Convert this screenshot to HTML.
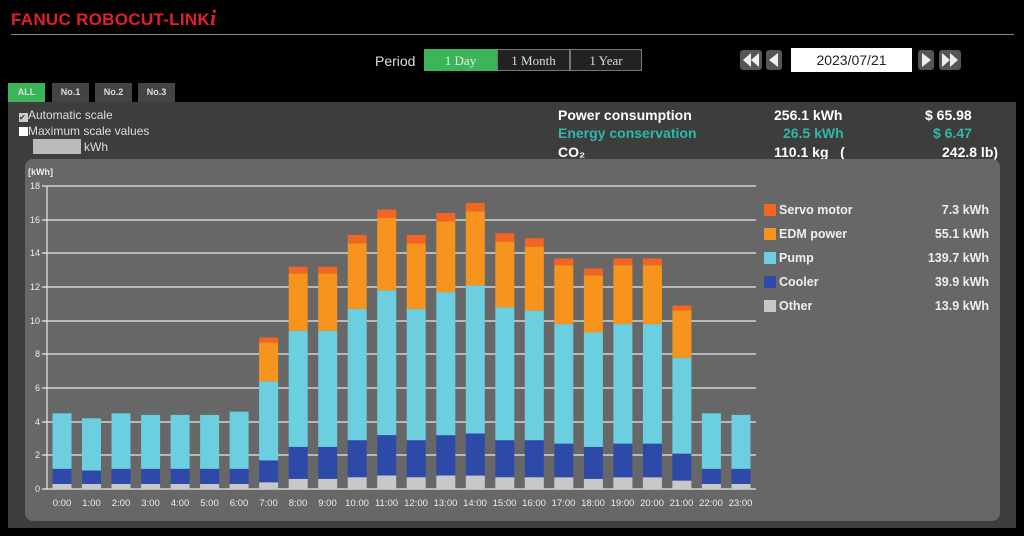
<!DOCTYPE html>
<html><head><meta charset="utf-8"><style>
body{margin:0;width:1024px;height:536px;background:#000;overflow:hidden;font-family:"Liberation Sans",sans-serif;position:relative}
.a{position:absolute}
.btn{position:absolute;top:49px;height:22px;line-height:22px;text-align:center;font-family:"Liberation Serif",serif;font-size:13px;color:#ddd;border:1px solid #777;box-sizing:border-box;background:#222}
.tab{position:absolute;top:83px;height:19px;line-height:19px;text-align:center;font-size:9px;font-weight:bold;color:#ddd;background:#444}
.info{position:absolute;font-size:14px;font-weight:bold;color:#fff}
.lg{position:absolute;font-size:12.5px;font-weight:bold;color:#eee}
</style></head><body>
<div class="a" style="left:11px;top:5px;font-size:17px;font-weight:bold;color:#e0202a;letter-spacing:0.3px">FANUC ROBOCUT-LINK<span style="font-family:'Liberation Serif',serif;font-style:italic;font-size:22px">i</span></div>
<div class="a" style="left:11px;top:34px;width:1003px;height:1px;background:#888"></div>
<div class="a" style="left:375px;top:53px;font-size:14px;color:#ddd">Period</div>
<div class="btn" style="left:424px;width:73px;background:#3cb45a;border-color:#3cb45a;color:#eee">1 Day</div>
<div class="btn" style="left:497px;width:73px">1 Month</div>
<div class="btn" style="left:570px;width:72px">1 Year</div>
<svg class="a" style="left:740px;top:50px" width="52" height="22"><rect x="0" y="0" width="22" height="20" rx="3" fill="#555"/><polygon points="3,10 11,3 11,17" fill="#eee"/><polygon points="11,10 19,3 19,17" fill="#eee"/><rect x="26" y="0" width="16" height="20" rx="3" fill="#555"/><polygon points="29,10 38,3 38,17" fill="#eee"/></svg>
<div class="a" style="left:791px;top:48px;width:121px;height:24px;background:#fff;color:#222;font-size:14px;text-align:center;line-height:24px">2023/07/21</div>
<svg class="a" style="left:916px;top:50px" width="50" height="22"><rect x="2" y="0" width="16" height="20" rx="3" fill="#555"/><polygon points="6,3 15,10 6,17" fill="#eee"/><rect x="23" y="0" width="22" height="20" rx="3" fill="#555"/><polygon points="26,3 34,10 26,17" fill="#eee"/><polygon points="34,3 42,10 34,17" fill="#eee"/></svg>
<div class="tab" style="left:8px;width:37px;background:#3cb45a">ALL</div>
<div class="tab" style="left:52px;width:37px">No.1</div>
<div class="tab" style="left:95px;width:37px">No.2</div>
<div class="tab" style="left:138px;width:37px">No.3</div>
<div class="a" style="left:8px;top:102px;width:1008px;height:426px;background:#3d3d3d"></div>
<div class="a" style="left:19px;top:108px;font-size:12px;color:#ddd"><span style="display:inline-block;width:9px;height:9px;background:#ccc;vertical-align:-1px;font-size:8px;line-height:9px;color:#333">✔</span>Automatic scale</div>
<div class="a" style="left:19px;top:124px;font-size:12px;color:#ddd"><span style="display:inline-block;width:9px;height:9px;background:#fff;vertical-align:-1px"></span>Maximum scale values</div>
<div class="a" style="left:33px;top:139px;width:48px;height:15px;background:#bbb"></div>
<div class="a" style="left:84px;top:140px;font-size:12px;color:#ddd">kWh</div>
<div class="info" style="left:558px;top:107px">Power consumption</div>
<div class="info" style="left:774px;top:107px">256.1 kWh</div>
<div class="info" style="left:925px;top:107px">$ 65.98</div>
<div class="info" style="left:558px;top:125px;color:#2fb8a8">Energy conservation</div>
<div class="info" style="left:783px;top:125px;color:#2fb8a8">26.5 kWh</div>
<div class="info" style="left:933px;top:125px;color:#2fb8a8">$ 6.47</div>
<div class="info" style="left:558px;top:144px">CO₂</div>
<div class="info" style="left:774px;top:144px">110.1 kg &nbsp; (</div>
<div class="info" style="left:942px;top:144px">242.8 lb)</div>
<div class="a" style="left:25px;top:159px;width:975px;height:362px;background:#676767;border-radius:8px"></div>
<svg class="a" style="left:0;top:0" width="1024" height="536">
<g font-family="Liberation Sans" font-size="9" fill="#eee" text-anchor="end">
<text x="28" y="175" text-anchor="start" font-weight="bold">[kWh]</text>
<text x="40" y="189">18</text><text x="40" y="223">16</text><text x="40" y="256">14</text><text x="40" y="290">12</text><text x="40" y="324">10</text><text x="40" y="357">8</text><text x="40" y="391">6</text><text x="40" y="425">4</text><text x="40" y="458">2</text><text x="40" y="492">0</text>
</g>
<g stroke="#e8e8e8" stroke-width="1.2">
<line x1="42" x2="756" y1="186" y2="186"/><line x1="42" x2="756" y1="220" y2="220"/><line x1="42" x2="756" y1="253" y2="253"/><line x1="42" x2="756" y1="287" y2="287"/><line x1="42" x2="756" y1="321" y2="321"/><line x1="42" x2="756" y1="354" y2="354"/><line x1="42" x2="756" y1="388" y2="388"/><line x1="42" x2="756" y1="422" y2="422"/><line x1="42" x2="756" y1="455" y2="455"/><line x1="42" x2="756" y1="489" y2="489"/>
<line x1="47" x2="47" y1="186" y2="489"/>
</g>
<g id="bars"></g>
<g font-family="Liberation Sans" font-size="9.5" fill="#eee" text-anchor="middle">
<text x="62" y="506">0:00</text><text x="91.5" y="506">1:00</text><text x="121" y="506">2:00</text><text x="150.5" y="506">3:00</text><text x="180" y="506">4:00</text><text x="209.5" y="506">5:00</text><text x="239" y="506">6:00</text><text x="268.5" y="506">7:00</text><text x="298" y="506">8:00</text><text x="327.5" y="506">9:00</text><text x="357" y="506">10:00</text><text x="386.5" y="506">11:00</text><text x="416" y="506">12:00</text><text x="445.5" y="506">13:00</text><text x="475" y="506">14:00</text><text x="504.5" y="506">15:00</text><text x="534" y="506">16:00</text><text x="563.5" y="506">17:00</text><text x="593" y="506">18:00</text><text x="622.5" y="506">19:00</text><text x="652" y="506">20:00</text><text x="681.5" y="506">21:00</text><text x="711" y="506">22:00</text><text x="740.5" y="506">23:00</text>
</g>
<rect x="764" y="204" width="12" height="12" fill="#f26522"/>
<rect x="764" y="228" width="12" height="12" fill="#f7941d"/>
<rect x="764" y="252" width="12" height="12" fill="#6ccfe0"/>
<rect x="764" y="276" width="12" height="12" fill="#2e4aa8"/>
<rect x="764" y="300" width="12" height="12" fill="#c8c8c8"/>
</svg>
<div class="lg" style="left:779px;top:203px">Servo motor</div><div class="lg" style="left:900px;top:203px;width:89px;text-align:right">7.3 kWh</div>
<div class="lg" style="left:779px;top:227px">EDM power</div><div class="lg" style="left:900px;top:227px;width:89px;text-align:right">55.1 kWh</div>
<div class="lg" style="left:779px;top:251px">Pump</div><div class="lg" style="left:900px;top:251px;width:89px;text-align:right">139.7 kWh</div>
<div class="lg" style="left:779px;top:275px">Cooler</div><div class="lg" style="left:900px;top:275px;width:89px;text-align:right">39.9 kWh</div>
<div class="lg" style="left:779px;top:299px">Other</div><div class="lg" style="left:900px;top:299px;width:89px;text-align:right">13.9 kWh</div>
<script>
var d=[[.3,1.2,4.5,0,0],[.3,1.1,4.2,0,0],[.3,1.2,4.5,0,0],[.3,1.2,4.4,0,0],[.3,1.2,4.4,0,0],[.3,1.2,4.4,0,0],[.3,1.2,4.6,0,0],
[.4,1.7,6.4,8.7,9.0],[.6,2.5,9.4,12.8,13.2],[.6,2.5,9.4,12.8,13.2],[.7,2.9,10.7,14.6,15.1],[.8,3.2,11.8,16.1,16.6],[.7,2.9,10.7,14.6,15.1],
[.8,3.2,11.7,15.9,16.4],[.8,3.3,12.1,16.5,17.0],[.7,2.9,10.8,14.7,15.2],[.7,2.9,10.6,14.4,14.9],[.7,2.7,9.8,13.3,13.7],[.6,2.5,9.3,12.7,13.1],
[.7,2.7,9.8,13.3,13.7],[.7,2.7,9.8,13.3,13.7],[.5,2.1,7.8,10.6,10.9],[.3,1.2,4.5,0,0],[.3,1.2,4.4,0,0]];
var c=["#c8c8c8","#2e4aa8","#6ccfe0","#f7941d","#f26522"],s="";
function Y(v){return 489-16.83*v}
d.forEach(function(r,i){var x=62+29.52*i-9.5,p=0;for(var k=0;k<5;k++){if(r[k]>p){s+='<rect x="'+x.toFixed(1)+'" y="'+Y(r[k]).toFixed(1)+'" width="19" height="'+(16.83*(r[k]-p)).toFixed(1)+'" fill="'+c[k]+'"/>';p=r[k];}}});
document.getElementById("bars").innerHTML=s;
</script>
</body></html>
